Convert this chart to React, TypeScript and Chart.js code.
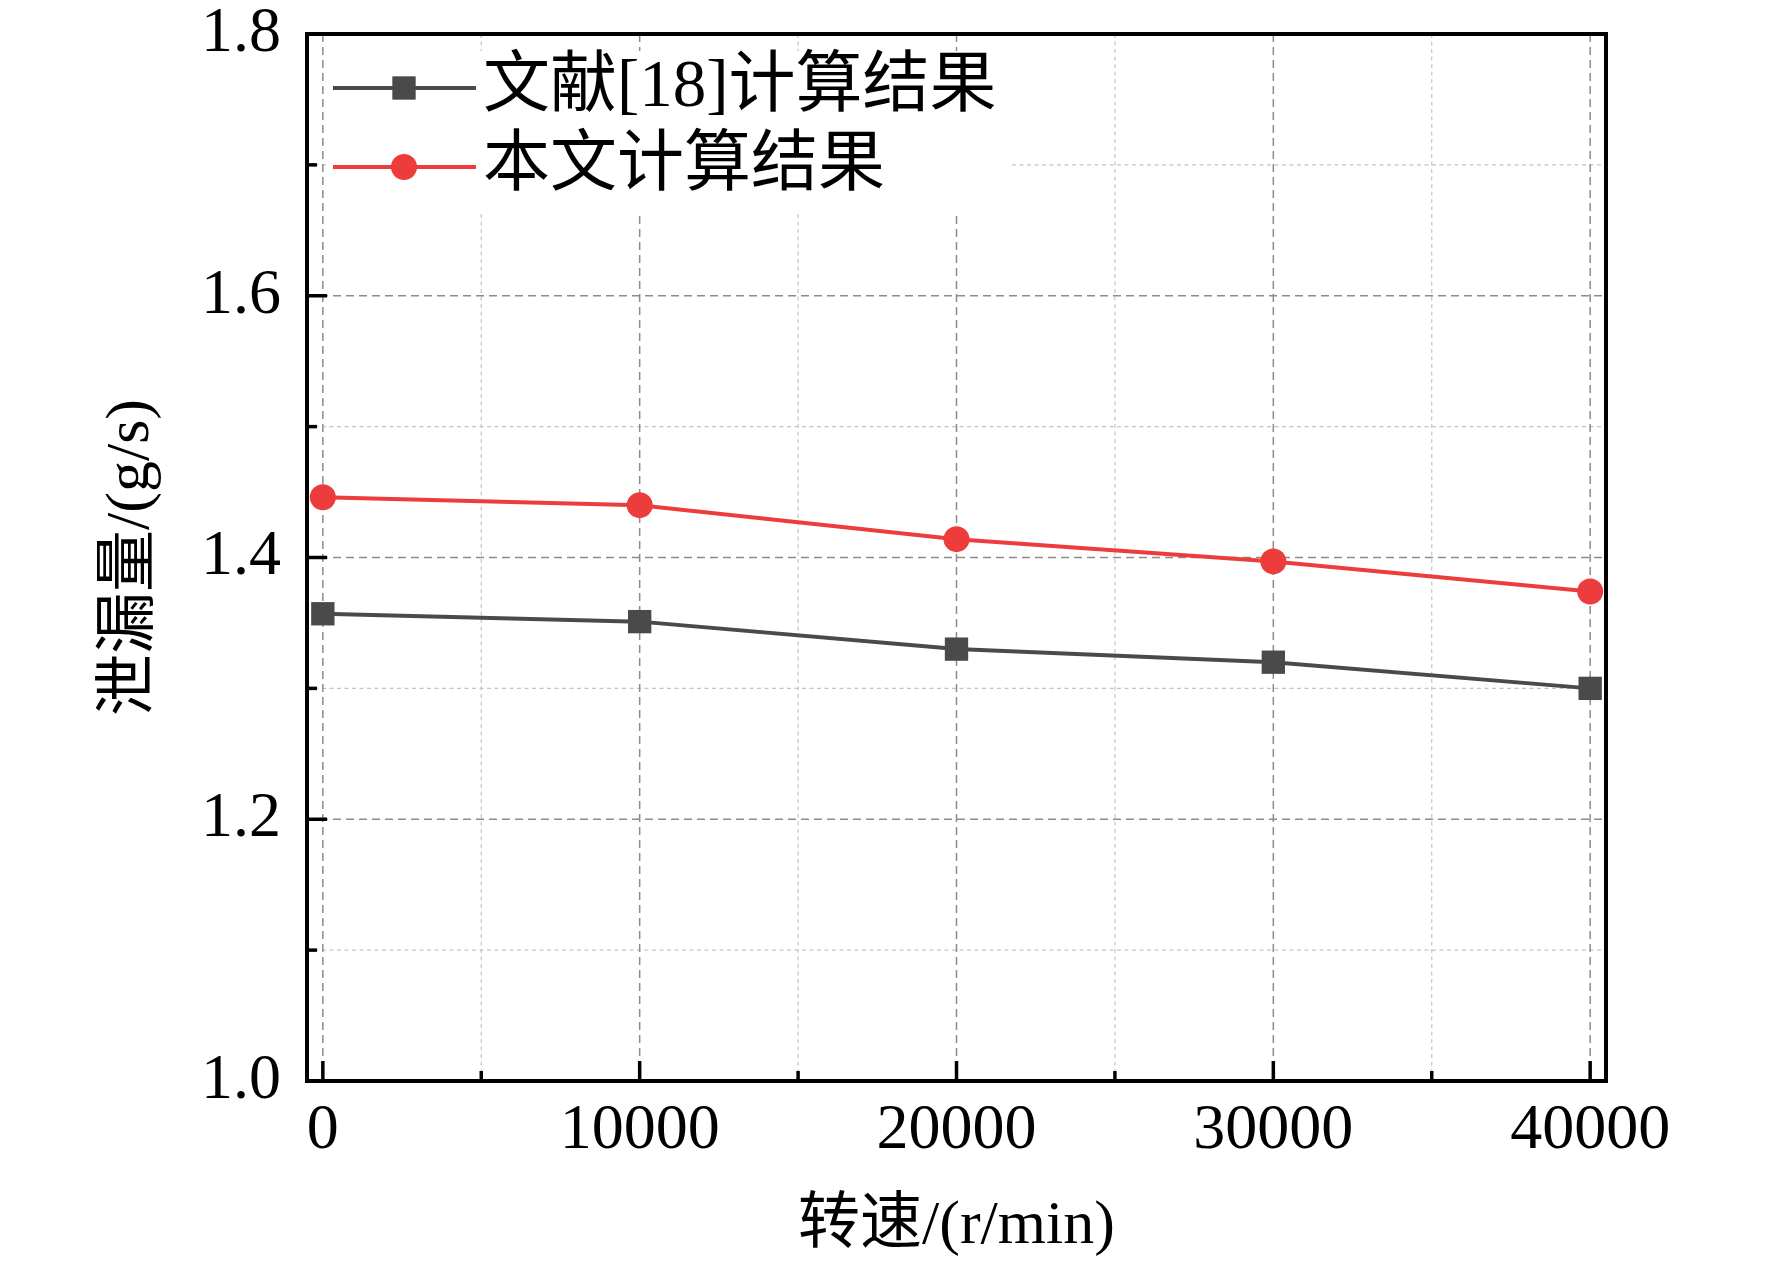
import React, { useEffect, useRef } from 'react';
import Chart from 'chart.js/auto';

// rotation speed (r/min) and leakage (g/s)
const speeds = [0, 10000, 20000, 30000, 40000];
const refLeak = [1.357, 1.351, 1.33, 1.32, 1.3];
const ourLeak = [1.446, 1.44, 1.414, 1.397, 1.374];
const seriesNames = ['文献[18]计算结果', '本文计算结果'];

const xMajor = [0, 10000, 20000, 30000, 40000];
const xMinor = [5000, 15000, 25000, 35000];
const yMajor = [1.0, 1.2, 1.4, 1.6, 1.8];
const yMinor = [1.1, 1.3, 1.5, 1.7];

const W = 1772;
const H = 1264;
const serif = '"Liberation Serif", "Times New Roman", "Noto Sans CJK SC", serif';
const grayC = '#4a4a4a';
const redC = '#ec3c3c';

const decor = {
  id: 'decor',
  beforeDatasetsDraw(chart) {
    const { ctx, chartArea: a, scales } = chart;
    const x = scales.x;
    const y = scales.y;
    const line = (x1, y1, x2, y2) => {
      ctx.beginPath();
      ctx.moveTo(x1, y1);
      ctx.lineTo(x2, y2);
      ctx.stroke();
    };
    ctx.save();
    // minor grid
    ctx.strokeStyle = '#c4c4c4';
    ctx.lineWidth = 1.2;
    ctx.setLineDash([4, 3.5]);
    xMinor.forEach((v) => {
      const p = x.getPixelForValue(v);
      line(p, a.top, p, a.bottom);
    });
    yMinor.forEach((v) => {
      const p = y.getPixelForValue(v);
      line(a.left, p, a.right, p);
    });
    // major grid
    ctx.strokeStyle = '#8c8c8c';
    ctx.lineWidth = 1.5;
    ctx.setLineDash([8, 5]);
    xMajor.forEach((v) => {
      const p = x.getPixelForValue(v);
      line(p, a.top, p, a.bottom);
    });
    yMajor.forEach((v) => {
      const p = y.getPixelForValue(v);
      line(a.left, p, a.right, p);
    });
    // legend background
    ctx.setLineDash([]);
    ctx.fillStyle = '#ffffff';
    ctx.fillRect(a.left + 22, a.top + 17, 682, 160);
    ctx.restore();
  },
  afterDatasetsDraw(chart) {
    const { ctx, chartArea: a, scales } = chart;
    const x = scales.x;
    const y = scales.y;
    const line = (x1, y1, x2, y2) => {
      ctx.beginPath();
      ctx.moveTo(x1, y1);
      ctx.lineTo(x2, y2);
      ctx.stroke();
    };
    ctx.save();
    ctx.strokeStyle = '#000';
    ctx.lineWidth = 3.5;
    // ticks pointing inward
    xMajor.forEach((v) => {
      const p = x.getPixelForValue(v);
      line(p, a.bottom, p, a.bottom - 20);
    });
    xMinor.forEach((v) => {
      const p = x.getPixelForValue(v);
      line(p, a.bottom, p, a.bottom - 10);
    });
    yMajor.forEach((v) => {
      const p = y.getPixelForValue(v);
      line(a.left, p, a.left + 20, p);
    });
    yMinor.forEach((v) => {
      const p = y.getPixelForValue(v);
      line(a.left, p, a.left + 10, p);
    });
    // frame
    ctx.lineWidth = 4;
    ctx.strokeRect(a.left, a.top, a.right - a.left, a.bottom - a.top);

    // legend
    const rows = [a.top + 54, a.top + 133];
    chart.data.datasets.forEach((ds, i) => {
      const ry = rows[i];
      ctx.strokeStyle = ds.borderColor;
      ctx.lineWidth = ds.borderWidth;
      line(a.left + 26, ry, a.left + 169, ry);
      ctx.fillStyle = ds.pointBackgroundColor;
      const mx = a.left + 97;
      if (ds.pointStyle === 'rect') {
        const s = ds.pointRadius * Math.SQRT1_2;
        ctx.fillRect(mx - s, ry - s, 2 * s, 2 * s);
      } else {
        ctx.beginPath();
        ctx.arc(mx, ry, ds.pointRadius, 0, Math.PI * 2);
        ctx.fill();
      }
      ctx.fillStyle = '#000';
      ctx.font = '67px ' + serif;
      ctx.textBaseline = 'middle';
      ctx.textAlign = 'left';
      ctx.fillText(ds.label, a.left + 176, ry);
    });
    ctx.restore();
  },
};

const LeakChart = () => {
  const chartRef = useRef(null);

  useEffect(() => {
    const canvas = chartRef.current;
    const mk = (vals) => speeds.map((s, i) => ({ x: s, y: vals[i] }));

    const chart = new Chart(canvas, {
      type: 'line',
      data: {
        datasets: [
          {
            label: seriesNames[0],
            data: mk(refLeak),
            borderColor: grayC,
            backgroundColor: grayC,
            pointBackgroundColor: grayC,
            pointBorderWidth: 0,
            borderWidth: 4,
            pointStyle: 'rect',
            pointRadius: 16.5,
          },
          {
            label: seriesNames[1],
            data: mk(ourLeak),
            borderColor: redC,
            backgroundColor: redC,
            pointBackgroundColor: redC,
            pointBorderWidth: 0,
            borderWidth: 4,
            pointStyle: 'circle',
            pointRadius: 13,
          },
        ],
      },
      options: {
        responsive: false,
        animation: false,
        devicePixelRatio: 1,
        layout: { padding: { left: 0, top: 34, right: 166, bottom: 0 } },
        plugins: { legend: { display: false }, tooltip: { enabled: false } },
        scales: {
          x: {
            type: 'linear',
            min: -500,
            max: 40500,
            grid: { display: false, drawTicks: false },
            border: { display: false },
            afterBuildTicks: (s) => {
              s.ticks = xMajor.map((v) => ({ value: v }));
            },
            afterFit: (s) => {
              s.height = 183;
              s.paddingLeft = 0;
              s.paddingRight = 0;
            },
            ticks: {
              color: '#000',
              padding: 12,
              maxRotation: 0,
              font: { family: serif, size: 64 },
              callback: (v) => String(v),
            },
            title: {
              display: true,
              text: '转速/(r/min)',
              color: '#000',
              font: { family: serif, size: 62, lineHeight: 1 },
              padding: { top: 0, bottom: 6 },
            },
          },
          y: {
            min: 1.0,
            max: 1.8,
            grid: { display: false, drawTicks: false },
            border: { display: false },
            afterBuildTicks: (s) => {
              s.ticks = yMajor.map((v) => ({ value: v }));
            },
            afterFit: (s) => {
              s.width = 307;
              s.paddingTop = 0;
              s.paddingBottom = 0;
            },
            ticks: {
              color: '#000',
              padding: 26,
              font: { family: serif, size: 64 },
              callback: (v) => Number(v).toFixed(1),
            },
            title: {
              display: true,
              text: '泄漏量/(g/s)',
              color: '#000',
              font: { family: serif, size: 62, lineHeight: 1 },
              padding: { top: 101, bottom: 0 },
            },
          },
        },
      },
      plugins: [decor],
    });

    return () => {
      chart.destroy();
    };
  }, []);

  return (
    <div style={{ position: 'fixed', left: 0, top: 0, width: W, height: H, background: '#fff' }}>
      <canvas ref={chartRef} width={W} height={H}></canvas>
    </div>
  );
};

export default function App() {
  return <LeakChart />;
}
